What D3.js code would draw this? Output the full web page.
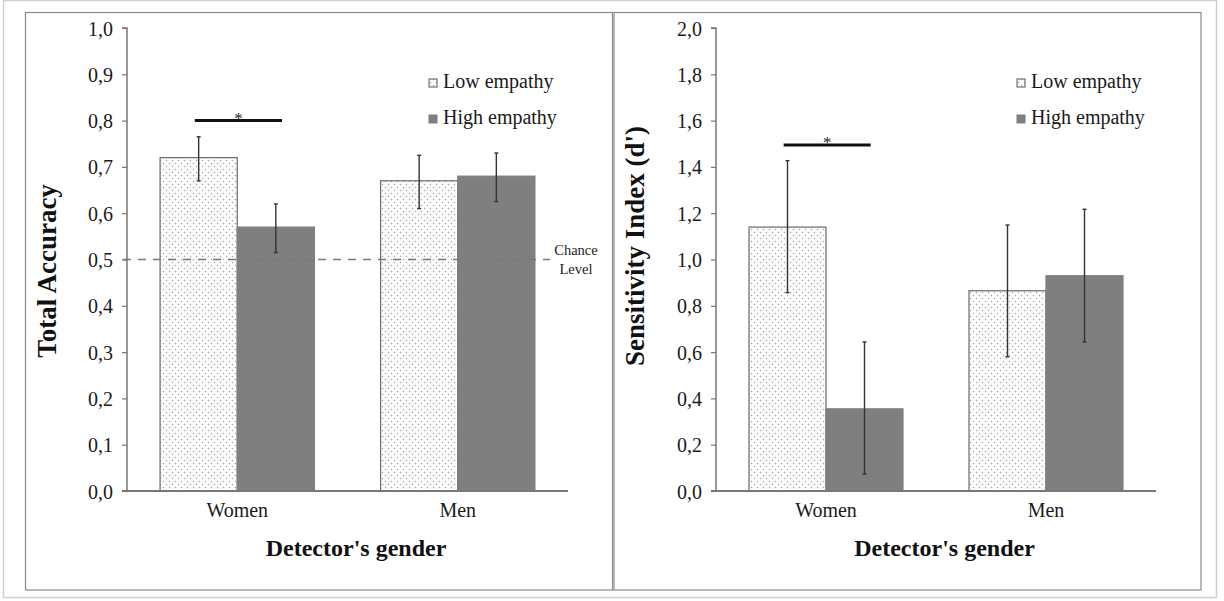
<!DOCTYPE html>
<html><head><meta charset="utf-8">
<script src="https://cdn.jsdelivr.net/npm/d3@7"></script>
<style>
html,body{margin:0;padding:0;background:#fff;}
svg{display:block;font-family:"Liberation Serif","Times New Roman",serif;}
</style></head>
<body><svg id="c" width="1224" height="601"></svg>
<script>
// ---- data ----
const categories = ["Women", "Men"];
const seriesNames = ["Low empathy", "High empathy"];

const accLow = [0.72, 0.67];
const accHigh = [0.57, 0.68];
const accLowUpper = [0.765, 0.725];
const accLowLower = [0.67, 0.61];
const accHighUpper = [0.62, 0.73];
const accHighLower = [0.515, 0.625];
const accTicks = [0, 0.1, 0.2, 0.3, 0.4, 0.5, 0.6, 0.7, 0.8, 0.9, 1.0];
const chanceLevel = 0.5;
const accSig = 0.8;

const dLow = [1.14, 0.865];
const dHigh = [0.355, 0.93];
const dLowUpper = [1.427, 1.149];
const dLowLower = [0.857, 0.58];
const dHighUpper = [0.644, 1.217];
const dHighLower = [0.073, 0.644];
const dTicks = [0, 0.2, 0.4, 0.6, 0.8, 1.0, 1.2, 1.4, 1.6, 1.8, 2.0];
const dSig = 1.495;

const SERIF = "Liberation Serif, Times New Roman, serif";
const svg = d3.select("#c");
const defs = svg.append("defs");
const pat = defs.append("pattern").attr("id","dots").attr("patternUnits","userSpaceOnUse")
  .attr("width",6).attr("height",6);
pat.append("rect").attr("width",6).attr("height",6).attr("fill","#fbfbfb");
pat.append("circle").attr("cx",1.5).attr("cy",1.5).attr("r",0.75).attr("fill","#a8a8a8");
pat.append("circle").attr("cx",4.5).attr("cy",4.5).attr("r",0.75).attr("fill","#a8a8a8");

// outer frame
svg.append("rect").attr("x",3.5).attr("y",0.5).attr("width",1213).attr("height",597)
  .attr("fill","none").attr("stroke","#cfcfcf").attr("stroke-width",1.5);

const fmt = v => d3.format(".1f")(v).replace(".", ",");

function panel(o) {
  svg.append("rect").attr("x",o.bx).attr("y",12.5).attr("width",o.bw).attr("height",577.5)
    .attr("fill","#fff").attr("stroke","#8a8a8a").attr("stroke-width",1.2);

  const x0 = o.ax, W = o.aw, top = 28, bot = 491;
  const y = d3.scaleLinear().domain(o.domain).range([bot, top]);
  const x = d3.scaleBand().domain(categories).range([x0, x0 + W]).paddingInner(0.3).paddingOuter(0.15);
  const xs = d3.scaleBand().domain(seriesNames).range([0, x.bandwidth()]);

  const g = svg.append("g").attr("font-family", SERIF);
  const rows = [];
  categories.forEach((c, i) => {
    rows.push({c, s: seriesNames[0], v: o.low[i], up: o.lowUp[i], lo: o.lowLo[i]});
    rows.push({c, s: seriesNames[1], v: o.high[i], up: o.highUp[i], lo: o.highLo[i]});
  });
  g.selectAll("rect.bar").data(rows).join("rect").attr("class","bar")
    .attr("x", d => x(d.c) + xs(d.s))
    .attr("y", d => y(d.v))
    .attr("width", xs.bandwidth())
    .attr("height", d => y(0) - y(d.v))
    .attr("fill", d => d.s === seriesNames[0] ? "url(#dots)" : "#7f7f7f")
    .attr("stroke", d => d.s === seriesNames[0] ? "#6a6a6a" : "#7f7f7f")
    .attr("stroke-width", 1.2);

  if (o.chance !== undefined) {
    g.append("line").attr("x1", x0 - 4).attr("x2", x0 + W - 18)
      .attr("y1", y(o.chance)).attr("y2", y(o.chance))
      .attr("stroke","#7a7a7a").attr("stroke-width",1.4).attr("stroke-dasharray","8,7");
    g.append("text").attr("x", x0 + W + 8).attr("y", y(o.chance) - 5)
      .attr("text-anchor","middle").attr("font-size",14.5).attr("fill","#222").text("Chance");
    g.append("text").attr("x", x0 + W + 8).attr("y", y(o.chance) + 14)
      .attr("text-anchor","middle").attr("font-size",14.5).attr("fill","#222").text("Level");
  }

  const eb = g.selectAll("g.eb").data(rows).join("g").attr("class","eb")
    .attr("stroke","#333").attr("stroke-width",1.4);
  const cx = d => x(d.c) + xs(d.s) + xs.bandwidth()/2;
  eb.append("line").attr("x1", cx).attr("x2", cx)
    .attr("y1", d => y(d.up)).attr("y2", d => y(d.lo));
  eb.append("line").attr("x1", d => cx(d) - 2).attr("x2", d => cx(d) + 2)
    .attr("y1", d => y(d.up)).attr("y2", d => y(d.up));
  eb.append("line").attr("x1", d => cx(d) - 2).attr("x2", d => cx(d) + 2)
    .attr("y1", d => y(d.lo)).attr("y2", d => y(d.lo));

  const sx1 = x(categories[0]) + xs(seriesNames[0]) + xs.bandwidth()*0.45;
  const sx2 = x(categories[0]) + xs(seriesNames[1]) + xs.bandwidth()*0.58;
  g.append("text").attr("x", (sx1+sx2)/2).attr("y", y(o.sig) + 3).attr("text-anchor","middle")
    .attr("font-size",17).attr("fill","#222").text("*");
  g.append("line").attr("x1", sx1).attr("x2", sx2).attr("y1", y(o.sig)).attr("y2", y(o.sig))
    .attr("stroke","#111").attr("stroke-width",3);

  const ya = g.append("g").attr("transform", `translate(${x0},0)`)
    .call(d3.axisLeft(y).tickValues(o.ticks).tickFormat(fmt).tickSize(5).tickPadding(9));
  ya.attr("font-family", SERIF);
  ya.select(".domain").attr("stroke","#777").attr("stroke-width",1.5).attr("d", `M-5,${top}H0V${bot}`);
  ya.selectAll(".tick line").attr("stroke","#777").attr("stroke-width",1.2);
  ya.selectAll(".tick text").attr("font-size",20).attr("fill","#1a1a1a").attr("dy","0.35em");

  const xa = g.append("g").attr("transform", `translate(0,${bot})`)
    .call(d3.axisBottom(x).tickSize(0).tickPadding(12));
  xa.attr("font-family", SERIF);
  xa.select(".domain").attr("stroke","#777").attr("stroke-width",1.8).attr("d", `M${x0-5},0H${x0+W}`);
  xa.selectAll(".tick text").attr("font-size",20).attr("fill","#1a1a1a");

  g.append("text").attr("x", x0 + W/2 + 8.5).attr("y", 556).attr("text-anchor","middle")
    .attr("font-size",24).attr("font-weight","bold").attr("fill","#111").text("Detector's gender");
  g.append("text").attr("transform", `translate(${o.tx},${o.ty}) rotate(-90)`).attr("text-anchor","middle")
    .attr("font-size",27).attr("font-weight","bold").attr("fill","#111").text(o.title);

  const lg = g.append("g");
  seriesNames.forEach((s, i) => {
    const yy = [79, 115][i];
    lg.append("rect").attr("x", o.lx).attr("y", yy).attr("width", 8).attr("height", 8)
      .attr("fill", i === 0 ? "url(#dots)" : "#7f7f7f").attr("stroke", i === 0 ? "#555" : "#7f7f7f").attr("stroke-width",1);
    lg.append("text").attr("x", o.lx + 14).attr("y", yy + 9).attr("font-size",20).attr("fill","#1a1a1a").text(s);
  });
}

panel({bx:25.5, bw:587, ax:127, aw:441, domain:[0,1], ticks:accTicks,
  low:accLow, high:accHigh, lowUp:accLowUpper, lowLo:accLowLower, highUp:accHighUpper, highLo:accHighLower,
  chance:chanceLevel, sig:accSig, title:"Total Accuracy", tx:56, ty:271, lx:429});

panel({bx:614, bw:587, ax:716, aw:440, domain:[0,2], ticks:dTicks,
  low:dLow, high:dHigh, lowUp:dLowUpper, lowLo:dLowLower, highUp:dHighUpper, highLo:dHighLower,
  sig:dSig, title:"Sensitivity Index (d')", tx:644, ty:246, lx:1017});
</script></body></html>
